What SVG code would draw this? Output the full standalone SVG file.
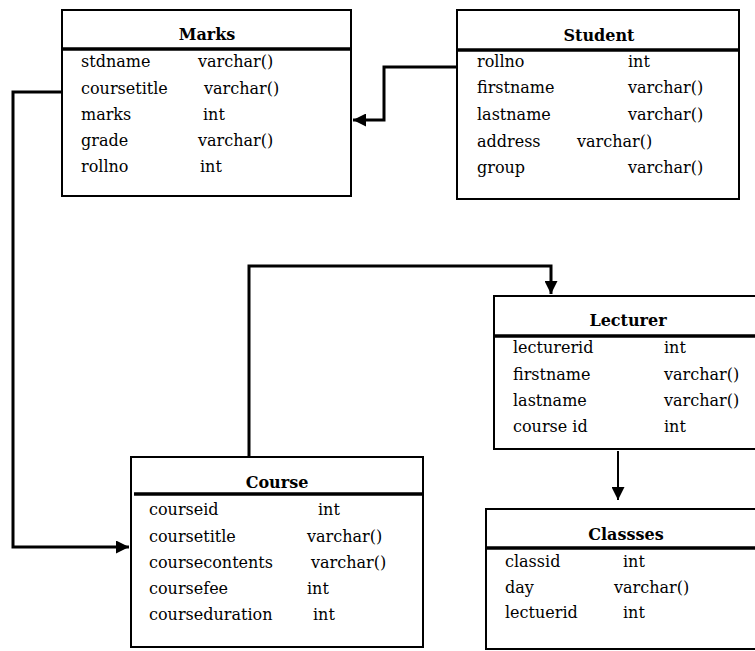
<svg xmlns="http://www.w3.org/2000/svg" width="755" height="651" viewBox="0 0 755 651">
<style>
.box{fill:#fff;stroke:#000;stroke-width:2}
.hdr{stroke:#000;stroke-width:3.5}
.t{font-family:"DejaVu Serif","Liberation Serif",serif;font-size:16px;fill:#000}
.h{font-family:"DejaVu Serif","Liberation Serif",serif;font-size:16px;font-weight:bold;fill:#000;text-anchor:middle}
.c{fill:none;stroke:#000;stroke-width:3}
.c2{fill:none;stroke:#000;stroke-width:2}
</style>
<defs>
<marker id="ah" viewBox="0 0 10 10" refX="10" refY="5" markerWidth="13" markerHeight="13" markerUnits="userSpaceOnUse" orient="auto">
<path d="M0,0 L10,5 L0,10 Z" fill="#000"/>
</marker>
</defs>
<rect width="755" height="651" fill="#fff"/>
<g id="connectors">
<path class="c" d="M86,92 H13 V547 H129" marker-end="url(#ah)"/>
<path class="c" d="M456,67 H384 V120 H353" marker-end="url(#ah)"/>
<path class="c" d="M249,457 V266 H551 V294" marker-end="url(#ah)"/>
<path class="c2" d="M618,451 V500" marker-end="url(#ah)"/>
</g>
<g id="marks">
<rect class="box" x="62" y="10" width="289" height="186"/>
<line class="hdr" x1="61" y1="49" x2="351" y2="49"/>
<text class="h" x="207" y="40">Marks</text>
<text class="t" x="81" y="67">stdname</text><text class="t" x="198" y="67">varchar()</text>
<text class="t" x="81" y="94">coursetitle</text><text class="t" x="204" y="94">varchar()</text>
<text class="t" x="81" y="120">marks</text><text class="t" x="203" y="120">int</text>
<text class="t" x="81" y="146">grade</text><text class="t" x="198" y="146">varchar()</text>
<text class="t" x="81" y="172">rollno</text><text class="t" x="200" y="172">int</text>
</g>
<g id="student">
<rect class="box" x="457" y="10" width="282" height="189"/>
<line class="hdr" x1="456" y1="50" x2="738" y2="50"/>
<text class="h" x="599" y="41">Student</text>
<text class="t" x="477" y="67">rollno</text><text class="t" x="628" y="67">int</text>
<text class="t" x="477" y="93">firstname</text><text class="t" x="628" y="93">varchar()</text>
<text class="t" x="477" y="120">lastname</text><text class="t" x="628" y="120">varchar()</text>
<text class="t" x="477" y="147">address</text><text class="t" x="577" y="147">varchar()</text>
<text class="t" x="477" y="173">group</text><text class="t" x="628" y="173">varchar()</text>
</g>
<g id="course">
<rect class="box" x="131" y="457" width="292" height="190"/>
<line class="hdr" x1="134" y1="494" x2="424" y2="494"/>
<text class="h" x="277" y="488">Course</text>
<text class="t" x="149" y="515">courseid</text><text class="t" x="318" y="515">int</text>
<text class="t" x="149" y="542">coursetitle</text><text class="t" x="307" y="542">varchar()</text>
<text class="t" x="149" y="568">coursecontents</text><text class="t" x="311" y="568">varchar()</text>
<text class="t" x="149" y="594">coursefee</text><text class="t" x="307" y="594">int</text>
<text class="t" x="149" y="620">courseduration</text><text class="t" x="313" y="620">int</text>
</g>
<g id="lecturer">
<rect class="box" x="494" y="296" width="270" height="153"/>
<line class="hdr" x1="494" y1="336" x2="757" y2="336"/>
<text class="h" x="628" y="326">Lecturer</text>
<text class="t" x="513" y="353">lecturerid</text><text class="t" x="664" y="353">int</text>
<text class="t" x="513" y="380">firstname</text><text class="t" x="664" y="380">varchar()</text>
<text class="t" x="513" y="406">lastname</text><text class="t" x="664" y="406">varchar()</text>
<text class="t" x="513" y="432">course id</text><text class="t" x="664" y="432">int</text>
</g>
<g id="classes">
<rect class="box" x="486" y="509" width="280" height="140"/>
<line class="hdr" x1="486" y1="548" x2="757" y2="548"/>
<text class="h" x="626" y="540">Classses</text>
<text class="t" x="505" y="567">classid</text><text class="t" x="623" y="567">int</text>
<text class="t" x="505" y="593">day</text><text class="t" x="614" y="593">varchar()</text>
<text class="t" x="505" y="618">lectuerid</text><text class="t" x="623" y="618">int</text>
</g>
</svg>
